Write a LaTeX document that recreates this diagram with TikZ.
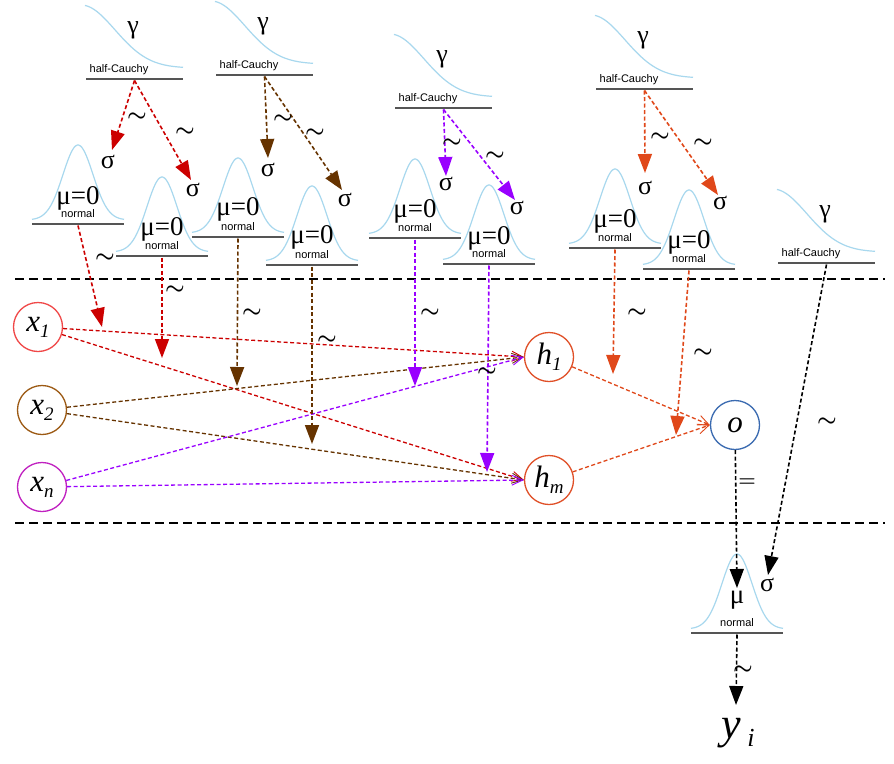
\RequirePackage{fix-cm}
\documentclass[tikz,border=0pt]{standalone}
\usepackage{fontspec}
\newfontfamily\lsans{Liberation Sans}
\newfontfamily\lserif{Liberation Serif}
\newfontfamily\lserifit{Liberation Serif Italic}
\usetikzlibrary{arrows.meta}
\newcommand\mysub[1]{\raisebox{-6pt}{\fontsize{19}{19}\selectfont #1}}
\definecolor{cRed}{HTML}{CC0000}
\definecolor{cBrown}{HTML}{663300}
\definecolor{cPurple}{HTML}{9900FF}
\definecolor{cOrange}{HTML}{E0481A}
\definecolor{cCurve}{HTML}{A8D8EE}
\definecolor{cXa}{HTML}{F04848}
\definecolor{cXb}{HTML}{9C5A14}
\definecolor{cXn}{HTML}{C020C0}
\definecolor{cH}{HTML}{E05028}
\definecolor{cO}{HTML}{3A6AB0}
\definecolor{cLine}{HTML}{555555}
\tikzset{
  curvec/.style={cCurve, line width=1.2pt},
  uline/.style={cLine, line width=1.2pt},
  smalltxt/.style={font=\lsans\fontsize{11}{11}\selectfont, inner sep=0pt},
  greek/.style={font=\lserif\fontsize{26}{26}\selectfont, inner sep=0pt},
  mutxt/.style={font=\lserif\fontsize{27}{27}\selectfont, inner sep=0pt, anchor=base},
  tild/.style={font=\boldmath\fontsize{22}{22}\selectfont, inner sep=0pt},
  varnode/.style={circle, draw=#1, line width=1.3pt, minimum size=49pt, inner sep=0pt, fill=white, font=\lserifit\fontsize{31}{31}\selectfont},
  parr/.style={draw=#1, line width=1.6pt, dash pattern=on 4pt off 2.5pt, -{Triangle[length=19pt,width=14pt,fill=#1]}},
  edgearr/.style={draw=#1, line width=1.3pt, dash pattern=on 4pt off 2.5pt, -{Straight Barb[length=11pt,width=10pt,line width=0.9pt]}},
  sepline/.style={line width=2.8pt, dash pattern=on 9pt off 5pt},
  hcauchy/.pic={
    \draw[curvec] plot[domain=-1:97, samples=50] (\x, {-11-63*exp(-((\x+5)/48)^2)});
    \draw[uline] (0,0) -- (97,0);
    \node[smalltxt, anchor=base] (-lbl) at (33,-7) {half-Cauchy};
    \node[greek] (-g) at (47,-49) {γ};
    \coordinate (-base) at (48.5,1.5);
  },
  normalpic/.pic={
    \draw[curvec] plot[domain=-46:46, samples=60] (\x, {-4-75*exp(-(\x/15)^2/2)});
    \draw[uline] (-46,0) -- (46,0);
    \node[smalltxt] (-lbl) at (0,-10) {normal};
    \coordinate (-base) at (0,1.5);
  }
}
\begin{document}
\begin{tikzpicture}[x=1pt,y=-1pt]
\useasboundingbox (0,0) rectangle (894,763);
\fill[white] (0,0) rectangle (894,763);

% half-Cauchy priors
\pic (hc1) at (86,79) {hcauchy};
\pic (hc2) at (216,75) {hcauchy};
\pic (hc3) at (395,108) {hcauchy};
\pic (hc4) at (596,89) {hcauchy};
\pic (hc5) at (778,263) {hcauchy};

% normal priors
\pic (n1) at (78,224) {normalpic};
\pic (n2) at (162,256) {normalpic};
\pic (n3) at (238,237) {normalpic};
\pic (n4) at (312,265) {normalpic};
\pic (n5) at (415,238) {normalpic};
\pic (n6) at (489,264) {normalpic};
\pic (n7) at (615,248) {normalpic};
\pic (n8) at (689,269) {normalpic};
\pic (n9) at (737,633) {normalpic};

\node[mutxt] (mu1) at (78,204) {μ=0};
\node[mutxt] (mu2) at (162,235) {μ=0};
\node[mutxt] (mu3) at (238,215) {μ=0};
\node[mutxt] (mu4) at (312,243) {μ=0};
\node[mutxt] (mu5) at (415,217) {μ=0};
\node[mutxt] (mu6) at (489,244) {μ=0};
\node[mutxt] (mu7) at (615,227) {μ=0};
\node[mutxt] (mu8) at (689,248) {μ=0};
\node[mutxt] (mu9) at (737,603) {μ};

% sigmas
\node[greek] (s1a) at (108,162) {σ};
\node[greek] (s1b) at (193,190) {σ};
\node[greek] (s2a) at (268,170) {σ};
\node[greek] (s2b) at (345,200) {σ};
\node[greek] (s3a) at (446,184) {σ};
\node[greek] (s3b) at (517,208) {σ};
\node[greek] (s4a) at (645,188) {σ};
\node[greek] (s4b) at (720,203) {σ};
\node[greek] (s5) at (767,585) {σ};

% separators
\draw[sepline] (15,279) -- (885,279);
\draw[sepline] (15,523) -- (885,523);

% variable nodes
\node[varnode=cXa] (x1) at (38,327) {x\mysub{1}};
\node[varnode=cXb] (x2) at (42,410) {x\mysub{2}};
\node[varnode=cXn] (xn) at (42,487) {x\mysub{n}};
\node[varnode=cH] (h1) at (549,357) {h\mysub{1}};
\node[varnode=cH] (hm) at (549,480) {h\mysub{m}};
\node[varnode=cO] (o) at (735,425) {o};
\node[font=\lserifit\fontsize{44}{44}\selectfont, inner sep=0pt] (y) at (738,733) {y\raisebox{-8pt}{\fontsize{26}{26}\selectfont\ i}};

% tip coordinates
\coordinate (p1a) at (112,150);
\coordinate (p1b) at (191,180);
\coordinate (p2a) at (268,158);
\coordinate (p2b) at (342,190);
\coordinate (p3a) at (446,176);
\coordinate (p3b) at (515,200);
\coordinate (p4a) at (645,173);
\coordinate (p4b) at (718,195);
\coordinate (q1) at (102,327);
\coordinate (q2) at (162,358);
\coordinate (q3) at (237,386);
\coordinate (q4) at (312,444);
\coordinate (q5) at (415,386);
\coordinate (q6) at (487,472);
\coordinate (q7) at (613,374);
\coordinate (q8) at (676,435);
\coordinate (q9) at (768,575);
\coordinate (q10) at (737,588);
\coordinate (q11) at (736,705);

% network edges
\draw[edgearr=cRed] (x1) -- (h1.west);
\draw[edgearr=cRed] (x1) -- (hm.west);
\draw[edgearr=cBrown] (x2) -- (h1.west);
\draw[edgearr=cBrown] (x2) -- (hm.west);
\draw[edgearr=cPurple] (xn) -- (h1.west);
\draw[edgearr=cPurple] (xn) -- (hm.west);
\draw[edgearr=cOrange] (h1) -- (o.west);
\draw[edgearr=cOrange] (hm) -- (o.west);

% hyperprior arrows
\draw[parr=cRed] (hc1-base) -- (p1a);
\draw[parr=cRed] (hc1-base) -- (p1b);
\draw[parr=cBrown] (hc2-base) -- (p2a);
\draw[parr=cBrown] (hc2-base) -- (p2b);
\draw[parr=cPurple] (hc3-base) -- (p3a);
\draw[parr=cPurple] (hc3-base) -- (p3b);
\draw[parr=cOrange] (hc4-base) -- (p4a);
\draw[parr=cOrange] (hc4-base) -- (p4b);

% weight prior arrows
\draw[parr=cRed] (n1-base) -- (q1);
\draw[parr=cRed] (n2-base) -- (q2);
\draw[parr=cBrown] (n3-base) -- (q3);
\draw[parr=cBrown] (n4-base) -- (q4);
\draw[parr=cPurple] (n5-base) -- (q5);
\draw[parr=cPurple] (n6-base) -- (q6);
\draw[parr=cOrange] (n7-base) -- (q7);
\draw[parr=cOrange] (n8-base) -- (q8);
\draw[parr=black] (hc5-base) -- (q9);
\draw[parr=black] (o) -- (q10);
\draw[parr=black] (n9-base) -- (q11);

% tilde labels
\node[tild] (tl1) at (137,117) {$\sim$};
\node[tild] (tl2) at (185,132) {$\sim$};
\node[tild] (tl3) at (283,119) {$\sim$};
\node[tild] (tl4) at (315,133) {$\sim$};
\node[tild] (tl5) at (452,143) {$\sim$};
\node[tild] (tl6) at (495,156) {$\sim$};
\node[tild] (tl7) at (660,137) {$\sim$};
\node[tild] (tl8) at (703,143) {$\sim$};
\node[tild] (tl9) at (105,258) {$\sim$};
\node[tild] (tl10) at (175,290) {$\sim$};
\node[tild] (tl11) at (252,313) {$\sim$};
\node[tild] (tl12) at (327,340) {$\sim$};
\node[tild] (tl13) at (430,313) {$\sim$};
\node[tild] (tl14) at (487,372) {$\sim$};
\node[tild] (tl15) at (637,313) {$\sim$};
\node[tild] (tl16) at (703,353) {$\sim$};
\node[tild] (tl17) at (827,422) {$\sim$};
\node[tild] (tl18) at (743,670) {$\sim$};
\node[font=\boldmath\fontsize{20}{20}\selectfont, inner sep=0pt] (eq) at (747,483) {$=$};
\end{tikzpicture}
\end{document}
